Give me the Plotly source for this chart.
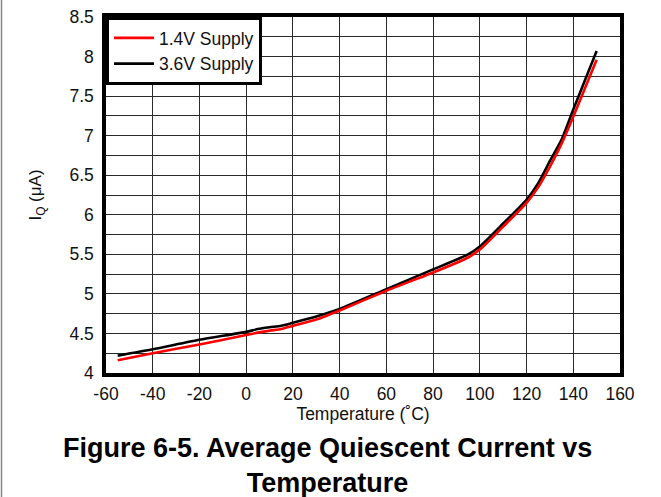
import plotly.graph_objects as go

temp = [-55, -40, -20, 0, 5, 10, 15, 20, 30, 40, 60, 80, 95, 100, 110, 120, 125, 130, 135, 140, 145, 150]
iq_14v = [4.16, 4.25, 4.36, 4.48, 4.51, 4.535, 4.555, 4.595, 4.675, 4.79, 5.04, 5.27, 5.46, 5.56, 5.85, 6.15, 6.35, 6.61, 6.90, 7.24, 7.60, 7.96]
iq_36v = [4.22, 4.30, 4.42, 4.52, 4.555, 4.578, 4.597, 4.635, 4.715, 4.81, 5.06, 5.31, 5.50, 5.60, 5.89, 6.19, 6.40, 6.68, 6.95, 7.33, 7.70, 8.07]

x_ticks = [-60, -40, -20, 0, 20, 40, 60, 80, 100, 120, 140, 160]
y_ticks = [4, 4.5, 5, 5.5, 6, 6.5, 7, 7.5, 8, 8.5]

FONT = "Liberation Sans, Arial, sans-serif"

fig = go.Figure()
fig.add_trace(go.Scatter(x=temp, y=iq_36v, mode="lines", name="3.6V Supply",
                         line=dict(color="black", width=2.6, shape="spline", smoothing=0.6),
                         legendrank=2))
fig.add_trace(go.Scatter(x=temp, y=iq_14v, mode="lines", name="1.4V Supply",
                         line=dict(color="#ff0000", width=2.6, shape="spline", smoothing=0.6),
                         legendrank=1))

fig.update_layout(
    width=661, height=497,
    margin=dict(l=106, r=41, t=17, b=124, autoexpand=False),
    paper_bgcolor="white", plot_bgcolor="white",
    font=dict(family=FONT, size=17.5, color="#111111"),
    showlegend=True,
    legend=dict(x=0, y=1, xanchor="left", yanchor="top",
                bgcolor="white", bordercolor="black", borderwidth=3,
                font=dict(family=FONT, size=17.5, color="#111111"),
                tracegroupgap=0, itemwidth=40),
    xaxis=dict(range=[-60, 160], tickvals=x_ticks, ticktext=[str(v) for v in x_ticks],
               showgrid=True, gridcolor="#2a2a2a", gridwidth=1.3,
               showline=True, linecolor="black", linewidth=3.5, mirror=True,
               ticks="", zeroline=False, automargin=False, ticklabelstandoff=2,
               title=dict(text="Temperature (˚C)", font=dict(size=17.5), standoff=0)),
    yaxis=dict(range=[4, 8.5], tickvals=y_ticks, ticktext=[f"{v:g}" for v in y_ticks],
               showgrid=True, gridcolor="#2a2a2a", gridwidth=1.3,
               minor=dict(dtick=0.25, tick0=4, showgrid=True, gridcolor="#2a2a2a", gridwidth=1.3),
               showline=True, linecolor="black", linewidth=3.5, mirror=True,
               ticks="", zeroline=False, automargin=False, ticklabelstandoff=5,
               title=dict(text="I<sub>Q</sub> (μA)", font=dict(size=17), standoff=24)),
)

fig.add_annotation(text="<b>Figure 6-5. Average Quiescent Current vs<br>Temperature</b>",
                   xref="paper", yref="paper", x=0.43, y=-0.163, xanchor="center", yanchor="top",
                   showarrow=False, font=dict(family=FONT, size=27, color="black"))

fig.add_shape(type="line", xref="paper", yref="paper",
              x0=-0.2033, x1=-0.2033, y0=-0.36, y1=1.06,
              line=dict(color="#888888", width=1.5))

fig.write_html("out.html", config={"displayModeBar": False},
               post_script="document.body.style.margin='0';")
